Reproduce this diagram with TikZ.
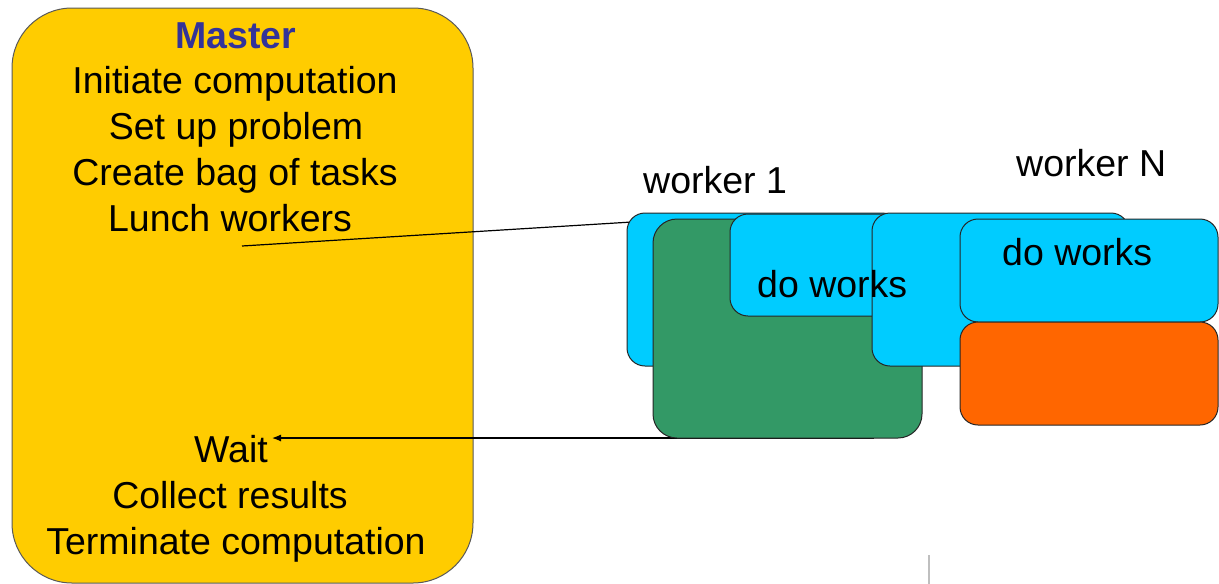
\documentclass[tikz,border=0pt]{standalone}
\usepackage{fontspec}
\setmainfont{Liberation Sans}
\usetikzlibrary{arrows.meta}
\definecolor{gold}{HTML}{FFCC00}
\definecolor{sky}{HTML}{00CCFF}
\definecolor{sea}{HTML}{339966}
\definecolor{tang}{HTML}{FF6600}
\definecolor{navy}{HTML}{333399}
\tikzset{
  panel/.style={draw=black!85, line width=1pt, rounded corners=18pt, inner sep=0pt},
  masterbox/.style={draw=black!65, line width=1pt, fill=gold, rounded corners=60pt, inner sep=0pt},
  txt/.style={font=\fontsize{37.5}{46}\selectfont, inner sep=0pt, anchor=base},
  ltxt/.style={txt, anchor=base west},
  conn/.style={draw=black, line width=1.2pt},
}
\begin{document}
\begin{tikzpicture}[x=1pt,y=-1pt]
\useasboundingbox (0,0) rectangle (1219,584);
\fill[white] (0,0) rectangle (1219,584);

% master
\node[masterbox, minimum width=461pt, minimum height=575pt] (master) at (242.5,295.5) {};
\node[txt, text=navy, font=\fontsize{37.5}{46}\selectfont\bfseries] (mtitle) at (236,48) {Master};
\node[txt] (l1) at (235,93) {Initiate computation};
\node[txt] (l2) at (236,139) {Set up problem};
\node[txt] (l3) at (235,185) {Create bag of tasks};
\node[txt] (l4) at (230,231) {Lunch workers};
\node[txt] (wait) at (231,462) {Wait};
\node[txt] (l6) at (230,508) {Collect results};
\node[txt] (l7) at (236,554) {Terminate computation};

% connector anchors
\coordinate (lunchstart) at (242,246);
\coordinate (lunchend) at (632,222);
\coordinate (retstart) at (874,438);
\coordinate (waittip) at (272,438);
\draw[conn] (lunchstart) -- (lunchend);
\draw[conn, -{Latex[length=9pt,width=7pt]}] (retstart) -- (waittip);

% workers
\node[panel, fill=sky, minimum width=273pt, minimum height=153pt] (wA) at (763.5,289.5) {};
\node[panel, fill=sea, rounded corners=24pt, minimum width=269pt, minimum height=219pt] (wG) at (787.5,328.5) {};
\node[panel, fill=sky, minimum width=270pt, minimum height=102pt] (wB) at (865,265) {};
\node[panel, fill=sky, minimum width=257pt, minimum height=153pt] (wC) at (1000.5,289.5) {};
\node[panel, fill=sky, minimum width=258pt, minimum height=103pt] (wD) at (1089,270.5) {};
\node[panel, fill=tang, minimum width=258pt, minimum height=103pt] (wO) at (1089,373.5) {};

\node[ltxt] (dw1) at (757,297) {do works};
\node[ltxt] (dw2) at (1002,265) {do works};
\node[ltxt] (w1) at (643,193) {worker 1};
\node[ltxt] (wN) at (1016,176) {worker N};

% faint mark at bottom
\draw[black!25, line width=1.5pt] (929,555) -- (929,584);
\end{tikzpicture}
\end{document}
